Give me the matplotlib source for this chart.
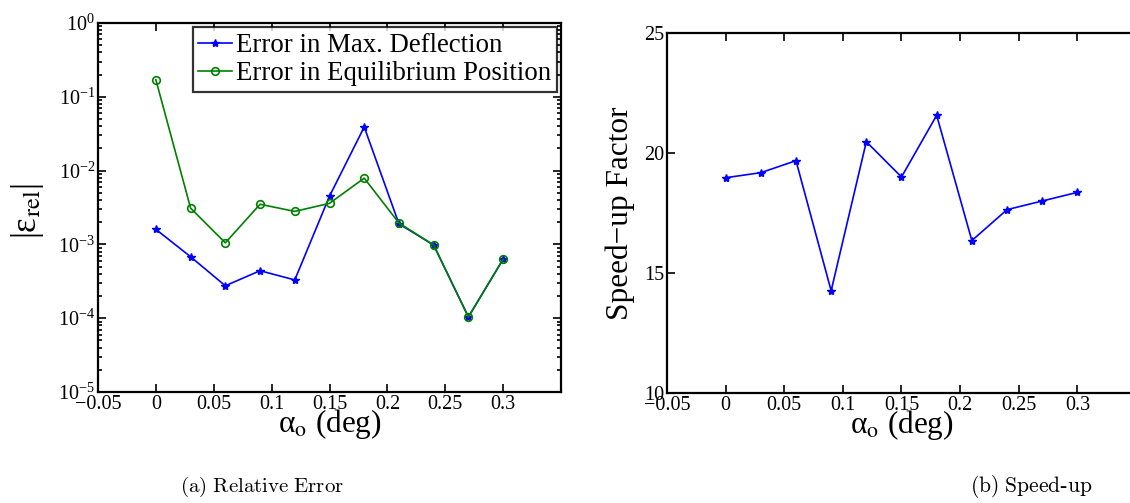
import numpy as np
import matplotlib
matplotlib.use("Agg")
import matplotlib.pyplot as plt
from matplotlib.ticker import LogLocator, LogFormatterMathtext, NullFormatter

plt.rcParams['font.family'] = ['Liberation Serif', 'DejaVu Serif']
plt.rcParams['mathtext.fontset'] = 'stix'

alpha = [0.0, 0.03, 0.06, 0.09, 0.12, 0.15, 0.18, 0.21, 0.24, 0.27, 0.30]
err_max_defl = [1.6e-3, 6.8e-4, 2.75e-4, 4.4e-4, 3.3e-4, 4.5e-3, 3.9e-2,
                1.9e-3, 9.8e-4, 1.04e-4, 6.3e-4]
err_equil = [0.17, 3.1e-3, 1.05e-3, 3.5e-3, 2.8e-3, 3.6e-3, 7.9e-3,
             1.95e-3, 9.8e-4, 1.04e-4, 6.3e-4]
speedup = [18.97, 19.18, 19.68, 14.26, 20.47, 19.0, 21.57, 16.35, 17.64, 18.0, 18.36]

xticks = [-0.05, 0, 0.05, 0.1, 0.15, 0.2, 0.25, 0.3]
xticklabels = ['\u22120.05', '0', '0.05', '0.1', '0.15', '0.2', '0.25', '0.3']
speed_ticks = [10, 15, 20, 25]

W, H = 1130, 503
fig = plt.figure(figsize=(W / 100, H / 100), dpi=100)

def px_axes(x0, y0, x1, y1):
    return fig.add_axes([x0 / W, 1 - y1 / H, (x1 - x0) / W, (y1 - y0) / H])

tick_fs = 14.5
blue = '#0000ff'
green = '#008000'

def style(ax, right=True):
    for s in ax.spines.values():
        s.set_linewidth(1.6)
    ax.tick_params(which='both', direction='in', top=True, right=right,
                   labelsize=tick_fs, width=1.2, pad=2)
    ax.tick_params(which='major', length=6)
    ax.tick_params(which='minor', length=3)
    ax.set_xlim(-0.05, 0.35)
    ax.set_xticks(xticks)
    ax.set_xticklabels(xticklabels)

xlabel_text = '\u03b1$_{\\rm o}$ (deg)'

# Left: relative error
ax1 = px_axes(98, 23, 561, 392)
ax1.set_yscale('log')
ax1.set_ylim(1e-5, 1)
ax1.plot(alpha, err_max_defl, color=blue, lw=1.2, marker='*', ms=6,
         label='Error in Max. Deflection')
ax1.plot(alpha, err_equil, color=green, lw=1.2, marker='o', ms=5.5, mfc='none',
         mew=1.2, label='Error in Equilibrium Position')
style(ax1)
ax1.yaxis.set_major_locator(LogLocator(base=10, numticks=10))
ax1.yaxis.set_minor_locator(LogLocator(base=10, subs=np.arange(2, 10), numticks=20))
ax1.yaxis.set_major_formatter(LogFormatterMathtext())
ax1.yaxis.set_minor_formatter(NullFormatter())
leg = ax1.legend(loc='upper right', fontsize=19.3, frameon=True, fancybox=False,
                 edgecolor='black', handlelength=1.25, handletextpad=0.15,
                 borderpad=0.22, labelspacing=0.12, borderaxespad=0.15)
leg.get_frame().set_linewidth(1.6)
ax1.set_xlabel(xlabel_text, fontsize=22.5)
ax1.xaxis.set_label_coords(0.5, -0.042, transform=ax1.transAxes)
ax1.xaxis.label.set_va('top')
ax1.set_ylabel('|\u03b5$_{\\rm rel}$|', fontsize=25)
ax1.yaxis.set_label_coords(-0.112, 0.49)

# Right: speed-up
ax2 = px_axes(667, 33, 1136, 393)
ax2.plot(alpha, speedup, color=blue, lw=1.2, marker='*', ms=6)
ax2.set_ylim(10, 25)
ax2.set_yticks(speed_ticks)
style(ax2, right=False)
ax2.set_xlabel(xlabel_text, fontsize=22.5)
ax2.xaxis.set_label_coords(0.5, -0.042, transform=ax2.transAxes)
ax2.xaxis.label.set_va('top')
ax2.set_ylabel('Speed\u2212up Factor', fontsize=22.5)
ax2.yaxis.set_label_coords(-0.069, 0.5)

fig.text(262 / W, 1 - 487 / H, r'$\mathrm{(a)\ Relative\ Error}$', ha='center',
         va='center', fontsize=15, math_fontfamily='cm')
fig.text(1031 / W, 1 - 487 / H, r'$\mathrm{(b)\ Speed}$-$\mathrm{up}$', ha='center',
         va='center', fontsize=15.5, math_fontfamily='cm')

fig.savefig('out.png', dpi=100)
